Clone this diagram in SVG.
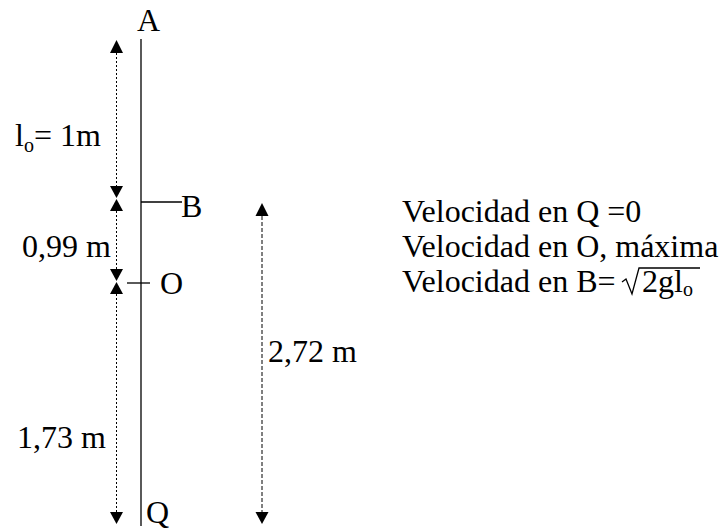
<svg xmlns="http://www.w3.org/2000/svg" width="725" height="532" viewBox="0 0 725 532">
<style>
text{font-family:'Liberation Serif','DejaVu Serif',serif;font-size:32px;fill:#000}
.sub{font-size:20px}
.main{stroke:#000;stroke-width:1.3;fill:none}
.dot{stroke:#000;stroke-width:1;stroke-dasharray:2,2;fill:none}
.dash{stroke:#000;stroke-width:1;stroke-dasharray:4,2;fill:none}
.ah{fill:#000;stroke:none}
</style>
<rect width="725" height="532" fill="#fff"/>
<g id="rod">
<line class="main" x1="141" y1="39" x2="141" y2="526"/>
</g>
<g id="A"><text x="137" y="31">A</text></g>
<g id="B">
<line class="main" x1="141" y1="202" x2="182" y2="202"/>
<text x="181" y="217">B</text>
</g>
<g id="O">
<line class="main" x1="127" y1="283" x2="150" y2="283"/>
<text x="160" y="294">O</text>
</g>
<g id="Q"><text x="146" y="523">Q</text></g>
<g id="connectors">
<line class="dot" x1="116.5" y1="53" x2="116.5" y2="186"/>
<polygon class="ah" points="116.5,40 110,53 123,53"/>
<polygon class="ah" points="116.5,198 110,186 123,186"/>
<line class="dot" x1="116.5" y1="211" x2="116.5" y2="269"/>
<polygon class="ah" points="116.5,199 110,211 123,211"/>
<polygon class="ah" points="116.5,281 110,269 123,269"/>
<line class="dot" x1="116.5" y1="294" x2="116.5" y2="512"/>
<polygon class="ah" points="116.5,282 110,294 123,294"/>
<polygon class="ah" points="116.5,524 110,512 123,512"/>
<line class="dash" x1="262" y1="216" x2="262" y2="512"/>
<polygon class="ah" points="262,203 255.5,216 268.5,216"/>
<polygon class="ah" points="262,524 255.5,512 268.5,512"/>
</g>
<g id="labels">
<text x="15" y="146">l<tspan class="sub" dy="6">o</tspan><tspan dy="-6">= 1m</tspan></text>
<text x="22" y="257">0,99 m</text>
<text x="17" y="448">1,73 m</text>
<text x="268" y="362">2,72 m</text>
</g>
<g id="notes">
<text x="402" y="222">Velocidad en Q =0</text>
<text x="402" y="257">Velocidad en O, máxima</text>
<text x="402" y="292">Velocidad en B=</text>
<path class="main" d="M622,282 L626,279 L632,294 L639,268 L700,268"/>
<text x="642" y="292">2gl<tspan class="sub" dy="4">o</tspan></text>
</g>
</svg>
